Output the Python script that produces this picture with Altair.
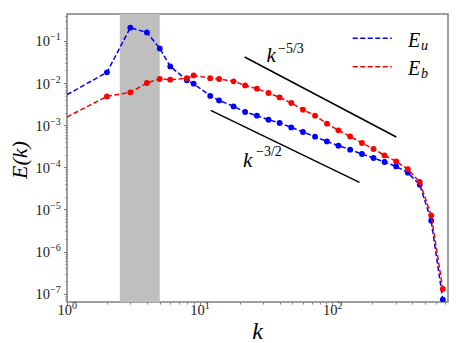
import altair as alt
import pandas as pd

# ---------------- data ----------------
k_vals = [1, 2, 3, 4, 5, 6, 8, 9, 12, 14, 18, 22, 27, 33, 40, 49, 60, 74, 91,
          111, 136, 167, 204, 247, 302, 370, 455, 555, 679]
E_u = [5.31e-3, 0.0180, 0.207, 0.160, 0.0667, 0.0249, 0.0117, 0.00968, 0.00497,
       0.00389, 0.0028, 0.00206, 0.00169, 0.00135, 0.00113, 8.89e-4, 6.92e-4,
       5.35e-4, 4.13e-4, 3.27e-4, 2.63e-4, 2.07e-4, 1.67e-4, 1.34e-4, 1.05e-4,
       7.47e-5, 3.88e-5, 5.42e-6, 7.2e-8]
E_b = [1.57e-3, 4.84e-3, 6.03e-3, 0.01007, 0.01253, 0.01205, 0.0131, 0.0152,
       0.0131, 0.0125, 0.0110, 0.00883, 0.00738, 0.00582, 0.00458, 0.00337,
       0.00234, 0.00169, 0.00109, 7.55e-4, 5.43e-4, 3.79e-4, 2.73e-4, 1.92e-4,
       1.39e-4, 9.04e-5, 4.49e-5, 7.24e-6, 1.29e-7]

band_k = [2.5, 5.0]                     # shaded forcing band
ref53_k = [21.8, 303.0]                 # k^{-5/3} guide line
ref53_E = [0.0417, 5.26e-4]
ref32_k = [12.1, 160.0]                 # k^{-3/2} guide line
ref32_E = [2.25e-3, 4.4e-5]

x_major = [1, 10, 100]
x_major_exp = ["0", "1", "2"]
y_major = [1e-7, 1e-6, 1e-5, 1e-4, 1e-3, 1e-2, 1e-1]
y_major_exp = ["−7", "−6", "−5", "−4", "−3", "−2", "−1"]
x_minor = [m * 10 ** e for e in range(0, 3) for m in range(2, 10) if m * 10 ** e < 743]
y_minor = [m * 10.0 ** e for e in range(-8, 0) for m in range(2, 10)
           if 6.35e-8 < m * 10.0 ** e < 0.4375]

# ---------------- helpers ----------------
FONT = "Liberation Serif"
FRAME = "#808080"
TXT = "#222222"
W, H = 381, 288

MAJOR = "abs(log(datum.value)/LN10 - round(log(datum.value)/LN10)) < 1e-6"

def make_axis(vals, minor):
    return alt.Axis(
        values=sorted(vals + minor), labels=False,
        tickSize={"condition": {"test": MAJOR, "value": 3.5}, "value": 2},
        tickColor=FRAME, tickWidth=1, domain=False, grid=False, title=None)

xscale = alt.Scale(type="log", domain=[1, 743], nice=False)
yscale = alt.Scale(type="log", domain=[6.35e-8, 0.4375], nice=False)
X = alt.X("k:Q", scale=xscale, axis=make_axis(x_major, x_minor))
Y = alt.Y("E:Q", scale=yscale, axis=make_axis(y_major, y_minor))

df = pd.DataFrame({
    "k": k_vals * 2,
    "E": E_u + E_b,
    "s": ["u"] * len(k_vals) + ["b"] * len(k_vals),
})

band = alt.Chart(pd.DataFrame({"k": [band_k[0]], "k2": [band_k[1]]})).mark_rect(
    color="#bfbfbf", clip=True
).encode(x=X, x2="k2:Q", y=alt.value(0), y2=alt.value(H))

def series(name, color):
    base = alt.Chart(df).transform_filter(f"datum.s == '{name}'")
    line = base.mark_line(color=color, strokeDash=[5, 2.5], strokeWidth=1.5, clip=True).encode(x=X, y=Y)
    pts = base.transform_filter("datum.k > 1").mark_point(
        color=color, filled=True, size=34, opacity=1, clip=True).encode(x=X, y=Y)
    return line + pts

def ref_line(ks, es):
    return alt.Chart(pd.DataFrame({"k": ks, "E": es})).mark_line(
        color="black", strokeWidth=1.5).encode(x=X, y=Y)

one = alt.Data(values=[{"a": 1}])

def txt(t, x, y, size, italic=False, angle=0, align="left"):
    return alt.Chart(one).mark_text(
        text=t, font=FONT, fontSize=size, fontStyle="italic" if italic else "normal",
        align=align, baseline="alphabetic", angle=angle, color="black"
    ).encode(x=alt.value(x), y=alt.value(y))

def leg_line(color, y):
    return alt.Chart(one).mark_rule(color=color, strokeDash=[5, 2.5], strokeWidth=1.5).encode(
        x=alt.value(285.7), x2=alt.value(324.7), y=alt.value(y))

# tick labels: "10" with a raised exponent, placed through the scales
xlab_df = pd.DataFrame({"k": x_major, "exp": x_major_exp})
ylab_df = pd.DataFrame({"E": y_major, "exp": y_major_exp})
xlab_base = alt.Chart(xlab_df).mark_text(font=FONT, fontSize=14.5, color=TXT, align="right",
                                         baseline="alphabetic", dx=5, text="10").encode(
    x=X, y=alt.value(H + 13))
xlab_exp = alt.Chart(xlab_df).mark_text(font=FONT, fontSize=10, color=TXT, align="left",
                                        baseline="alphabetic", dx=5).encode(
    x=X, y=alt.value(H + 6.5), text="exp:N")
ylab_base = alt.Chart(ylab_df).mark_text(font=FONT, fontSize=14.5, color=TXT, align="right",
                                         baseline="alphabetic", dy=5.5, text="10").encode(
    y=Y, x=alt.value(-17))
ylab_exp = alt.Chart(ylab_df).mark_text(font=FONT, fontSize=10, color=TXT, align="left",
                                        baseline="alphabetic", dy=-0.5).encode(
    y=Y, x=alt.value(-17), text="exp:N")

chart = alt.layer(
    band,
    series("u", "#0000ff"),
    series("b", "#ff0000"),
    ref_line(ref53_k, ref53_E),
    ref_line(ref32_k, ref32_E),
    xlab_base, xlab_exp, ylab_base, ylab_exp,
    txt("k", 199.5, 47.5, 21, italic=True),
    txt("−5/3", 211, 38.5, 14),
    txt("k", 176, 152.5, 21, italic=True),
    txt("−3/2", 189, 142, 14),
    leg_line("#0000ff", 24.3),
    leg_line("#ff0000", 52.7),
    txt("E", 341, 32.7, 20, italic=True),
    txt("u", 354, 35.5, 14, italic=True),
    txt("E", 341, 61, 20, italic=True),
    txt("b", 354, 63.5, 14, italic=True),
    txt("k", W / 2, H + 37, 24, italic=True, align="center"),
    txt("E(k)", -40, 146, 22, italic=True, angle=270, align="center"),
).properties(
    width=W, height=H,
    padding={"left": 59, "top": 6, "right": 1, "bottom": 41},
    autosize=alt.AutoSizeParams(type="none"),
).configure_view(stroke=FRAME, strokeWidth=1.5)

chart.save("out.html", embed_options={"renderer": "svg", "actions": False})
